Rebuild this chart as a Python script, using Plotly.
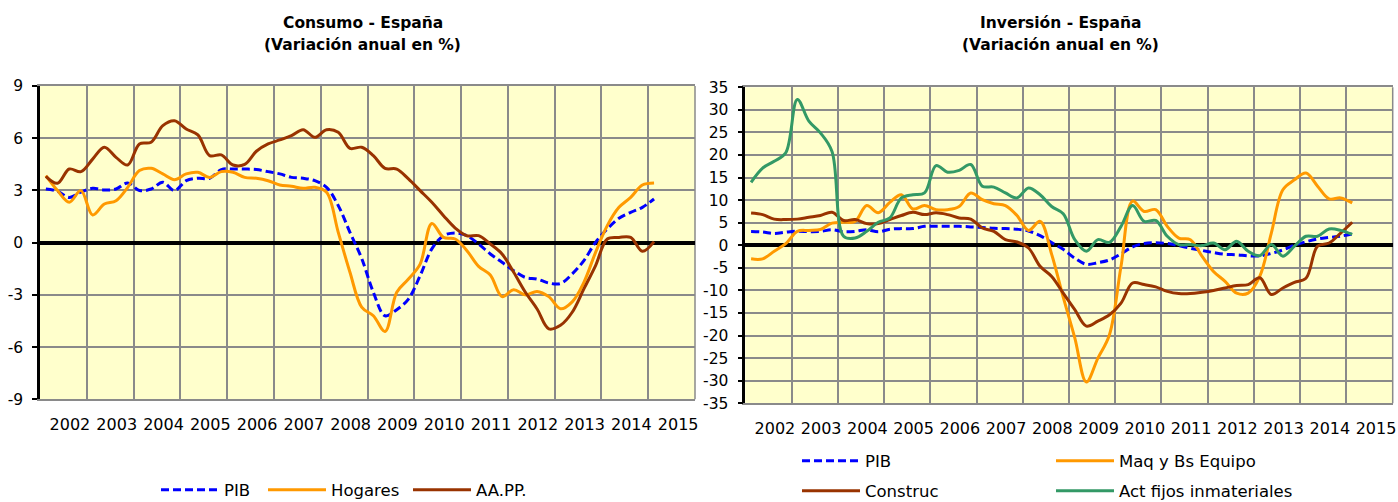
import plotly.graph_objects as go

# ---------------- data ----------------
quarters = [f"{y}-T{q}" for y in range(2002, 2016) for q in range(1, 5)][:53]
year_labels = [str(y) for y in range(2002, 2016)]
ticks_consumo = [-9, -6, -3, 0, 3, 6, 9]
ticks_inversion = [-35, -30, -25, -20, -15, -10, -5, 0, 5, 10, 15, 20, 25, 30, 35]

pib = [3.08, 2.95, 2.6, 2.9, 3.12, 3.03, 3.08, 3.43, 3.0, 3.08,
       3.47, 2.99, 3.56, 3.7, 3.7, 4.2, 4.23, 4.23, 4.2, 4.08,
       3.95, 3.75, 3.7, 3.56, 3.18, 2.13, 0.59, -0.9, -2.85, -4.2,
       -3.85, -3.24, -1.9, -0.36, 0.4, 0.56, 0.4, -0.08, -0.65, -1.13,
       -1.61, -2.0, -2.09, -2.32, -2.35, -1.8, -1.03, 0.02, 0.79, 1.4,
       1.74, 2.03, 2.51]

hogares = [3.85, 2.99, 2.32, 2.99, 1.59, 2.22, 2.41, 3.18, 4.14, 4.27,
           3.95, 3.62, 3.95, 4.04, 3.75, 4.08, 4.04, 3.75, 3.7, 3.56,
           3.31, 3.24, 3.12, 3.18, 2.89, 0.59, -1.7, -3.7, -4.2, -5.1,
           -2.85, -2.09, -1.23, 1.1, 0.3, 0.21, -0.46, -1.36, -1.86, -3.1,
           -2.7, -3.0, -2.8, -3.1, -3.8, -3.4, -2.28, -0.56, 0.98, 2.03,
           2.6, 3.31, 3.43]

aapp = [3.81, 3.41, 4.23, 4.08, 4.8, 5.48, 4.9, 4.46, 5.67, 5.77,
        6.72, 7.0, 6.53, 6.19, 5.0, 5.04, 4.46, 4.5, 5.25, 5.67,
        5.9, 6.15, 6.49, 6.05, 6.49, 6.34, 5.42, 5.48, 5.0, 4.27,
        4.23, 3.66, 2.99, 2.32, 1.55, 0.84, 0.4, 0.4, -0.08, -0.65,
        -1.7, -2.85, -3.81, -4.95, -4.75, -4.0, -2.66, -1.32, 0.21, 0.3,
        0.3, -0.5, 0.06]

maq = [-3.0, -3.0, -1.3, 0.37, 3.1, 3.3, 3.5, 4.9, 5.1, 5.3,
       8.8, 7.2, 9.5, 11.2, 8.05, 8.8, 7.9, 7.9, 8.6, 11.6,
       10.1, 9.2, 8.8, 6.6, 3.3, 5.3, -2.0, -11.5, -20.5, -30.3,
       -25.0, -19.8, -4.65, 9.8, 7.5, 7.9, 4.2, 1.6, 1.25, -2.4,
       -5.8, -8.0, -10.6, -10.6, -6.9, 2.7, 12.3, 14.5, 16.0, 13.1,
       10.3, 10.5, 9.4]

construc = [7.16, 6.8, 5.8, 5.7, 5.8, 6.2, 6.6, 7.3, 5.5, 5.7,
            4.8, 4.8, 5.7, 6.6, 7.3, 6.8, 7.2, 6.8, 6.06, 5.8,
            3.84, 3.1, 1.26, 0.74, -0.6, -4.65, -6.9, -10.6, -14.25, -17.9,
            -16.8, -15.4, -12.8, -8.35, -8.7, -9.2, -10.2, -10.7, -10.7, -10.4,
            -10.0, -9.45, -8.9, -8.7, -7.2, -10.9, -9.45, -8.2, -7.3, -0.2,
            0.5, 2.7, 5.1]

inmat = [13.96, 17.1, 18.6, 20.5, 32.3, 27.5, 24.9, 20.8, 2.0, 1.6,
         3.1, 5.1, 6.06, 10.5, 11.2, 11.6, 17.65, 16.2, 16.6, 17.9,
         13.1, 12.9, 11.6, 10.5, 12.7, 11.2, 8.6, 7.0, 1.25, -1.3,
         1.25, 0.66, 4.2, 8.8, 5.3, 5.5, 2.0, 0.15, 0.15, -0.07,
         0.5, -0.96, 0.9, -1.33, -2.3, 0.15, -2.4, -0.2, 2.0, 2.0,
         3.6, 3.3, 2.4]

# ---------------- styling ----------------
W, H = 1398, 502
FONT = "DejaVu Sans"
GRID = "#8a8a8a"
BG = "#FFFFCC"
BLUE, ORANGE, BROWN, GREEN = "#0000FF", "#FF9900", "#993300", "#339966"

# quarter label -> position on a continuous year axis (mid-quarter)
xq = [int(s[:4]) + (int(s[-1]) - 0.5) / 4 for s in quarters]
year_pos = [int(y) + 0.64 for y in year_labels]


def px_x(p):
    return p / W


def px_y(p):
    return 1 - p / H


fig = go.Figure()


def add_line(y, name, color, xa, ya, legend, dash=None):
    fig.add_trace(go.Scatter(
        x=xq, y=y, name=name, mode="lines", xaxis=xa, yaxis=ya,
        legend=legend,
        line=dict(color=color, width=3, shape="spline", smoothing=1.0,
                  dash=dash),
        hovertemplate="%{y:.1f}<extra>" + name + "</extra>",
    ))


DASH = "8px,4px"
add_line(pib, "PIB", BLUE, "x", "y", "legend", DASH)
add_line(hogares, "Hogares", ORANGE, "x", "y", "legend2")
add_line(aapp, "AA.PP.", BROWN, "x", "y", "legend3")

add_line(pib, "PIB", BLUE, "x2", "y2", "legend4", DASH)
add_line(maq, "Maq y Bs Equipo", ORANGE, "x2", "y2", "legend5")
add_line(construc, "Construc", BROWN, "x2", "y2", "legend6")
add_line(inmat, "Act fijos inmateriales", GREEN, "x2", "y2", "legend7")


def xaxis_cfg(domain, anchor):
    return dict(
        domain=domain, anchor=anchor, range=[2002, 2016],
        tickmode="array", tickvals=year_pos, ticktext=year_labels,
        ticks="", showgrid=False, zeroline=False, automargin=False,
        minor=dict(tick0=2002, dtick=1, showgrid=True, gridcolor=GRID,
                   gridwidth=1.5, ticks=""),
        showline=True, linecolor=GRID, linewidth=1.5, mirror=True,
        tickfont=dict(family=FONT, size=16, color="black"),
        ticklabelstandoff=10,
    )


def yaxis_cfg(domain, anchor, tickvals):
    return dict(
        domain=domain, anchor=anchor,
        range=[tickvals[0], tickvals[-1]],
        tickmode="array", tickvals=tickvals,
        ticktext=[str(v) for v in tickvals],
        showgrid=True, gridcolor=GRID, gridwidth=1.5, automargin=False,
        zeroline=True, zerolinecolor="black", zerolinewidth=3.5,
        showline=True, linecolor="black", linewidth=2.5,
        ticks="outside", ticklen=5, tickwidth=2, tickcolor="black",
        tickfont=dict(family=FONT, size=15.5, color="black"),
        ticklabelstandoff=6,
    )


def legend_cfg(xpix, ypix):
    return dict(
        x=px_x(xpix), y=px_y(ypix), xanchor="left", yanchor="middle",
        orientation="h", bgcolor="rgba(0,0,0,0)", borderwidth=0,
        itemwidth=58,
        font=dict(family=FONT, size=16.5, color="black"),
    )


fig.update_layout(
    width=W, height=H, autosize=False,
    margin=dict(l=0, r=0, t=0, b=0, pad=0, autoexpand=False),
    paper_bgcolor="white", plot_bgcolor=BG,
    showlegend=True,
    xaxis=xaxis_cfg([px_x(40), px_x(695)], "y"),
    yaxis=yaxis_cfg([px_y(399.3), px_y(86)], "x", ticks_consumo),
    xaxis2=xaxis_cfg([px_x(745.3), px_x(1392.7)], "y2"),
    yaxis2=yaxis_cfg([px_y(403.3), px_y(87.3)], "x2", ticks_inversion),
    legend=legend_cfg(156, 490),
    legend2=legend_cfg(263, 490),
    legend3=legend_cfg(408, 490),
    legend4=legend_cfg(797, 461),
    legend5=legend_cfg(1051, 461),
    legend6=legend_cfg(797, 491),
    legend7=legend_cfg(1051, 491),
    hovermode="closest",
)

# right border of each plot area (gray frame)
for xr, yr in (("x domain", "y domain"), ("x2 domain", "y2 domain")):
    fig.add_shape(type="line", xref=xr, yref=yr, x0=1, x1=1, y0=0, y1=1,
                  line=dict(color=GRID, width=1.5), layer="below")

# titles
titles = [
    (363, "Consumo - España", "(Variación anual en %)"),
    (1060, "Inversión - España", "(Variación anual en %)"),
]
for xc, l1, l2 in titles:
    for ypix, txt in ((23, l1), (45, l2)):
        fig.add_annotation(
            x=px_x(xc), y=px_y(ypix), xref="paper", yref="paper",
            text="<b>" + txt + "</b>", showarrow=False,
            xanchor="center", yanchor="middle",
            font=dict(family=FONT, size=15.5, color="black"),
        )

# the page's default body margin would offset the fixed-size figure
fig.write_html(
    "out.html",
    config={"displayModeBar": False},
    post_script="document.body.style.margin='0px';"
                "document.body.style.overflow='hidden';",
)
